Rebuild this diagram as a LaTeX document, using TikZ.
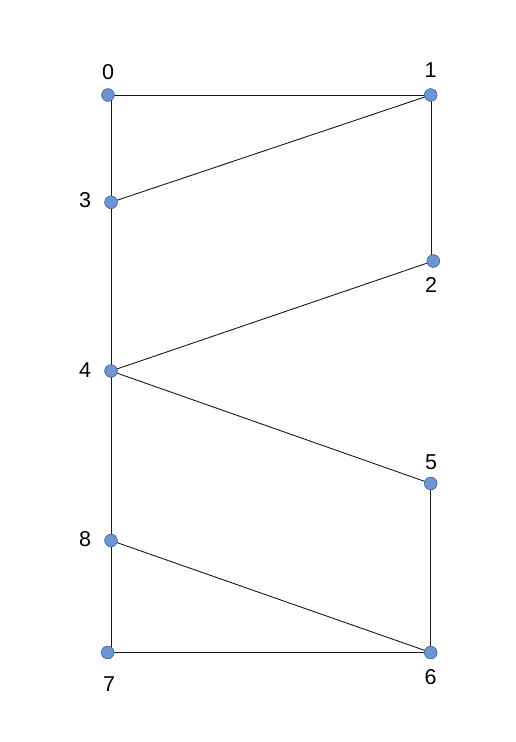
\documentclass[tikz,border=0pt]{standalone}
\usepackage{fontspec}
\setmainfont{Liberation Sans}
\definecolor{dotfill}{RGB}{108,150,210}
\definecolor{dotline}{RGB}{72,112,170}
\begin{document}
\begin{tikzpicture}[x=1pt,y=-1pt,
  dot/.style={circle,fill=dotfill,draw=dotline,line width=0.6pt,minimum size=12.5pt,inner sep=0pt},
  lbl/.style={font=\fontsize{21.5}{25}\selectfont,inner sep=0pt},
  edge/.style={draw=black!90,line width=0.9pt}]
\useasboundingbox[fill=white] (0,0) rectangle (515,742);
% vertices
\node[dot] (n0) at (108,95) {};
\node[dot] (n1) at (430.7,95) {};
\node[dot] (n2) at (433.3,261) {};
\node[dot] (n3) at (111,202.3) {};
\node[dot] (n4) at (111,371) {};
\node[dot] (n5) at (430.7,483.5) {};
\node[dot] (n6) at (430.7,652.5) {};
\node[dot] (n7) at (107.7,652.5) {};
\node[dot] (n8) at (111,540.5) {};
% edges
\draw[edge] (n0.center) -- (n1.center);
\draw[edge] (n3 |- n0) -- (n3.center);
\draw[edge] (n3.center) -- (n1.center);
\draw[edge] ([xshift=1pt]n1.center) -- ([xshift=-1.6pt]n2.center);
\draw[edge] (n3.center) -- (n4.center);
\draw[edge] (n2.center) -- (n4.center);
\draw[edge] (n4.center) -- (n5.center);
\draw[edge] (n4.center) -- (n8.center);
\draw[edge] (n5.center) -- (n6.center);
\draw[edge] (n8.center) -- (n6.center);
\draw[edge] (n8.center) -- (n8 |- n7);
\draw[edge] (n7.center) -- (n6.center);
% redraw dots on top
\foreach \n in {n0,n1,n2,n3,n4,n5,n6,n7,n8}{
  \node[dot] at (\n) {};
}
% labels
\node[lbl] (l0) at (108,72) {0};
\node[lbl] (l1) at (430.7,70) {1};
\node[lbl] (l2) at (431,284.5) {2};
\node[lbl] (l3) at (85,200.5) {3};
\node[lbl] (l4) at (85,370) {4};
\node[lbl] (l5) at (431,462) {5};
\node[lbl] (l6) at (430.7,677) {6};
\node[lbl] (l7) at (109,684) {7};
\node[lbl] (l8) at (85,539) {8};
\end{tikzpicture}
\end{document}
